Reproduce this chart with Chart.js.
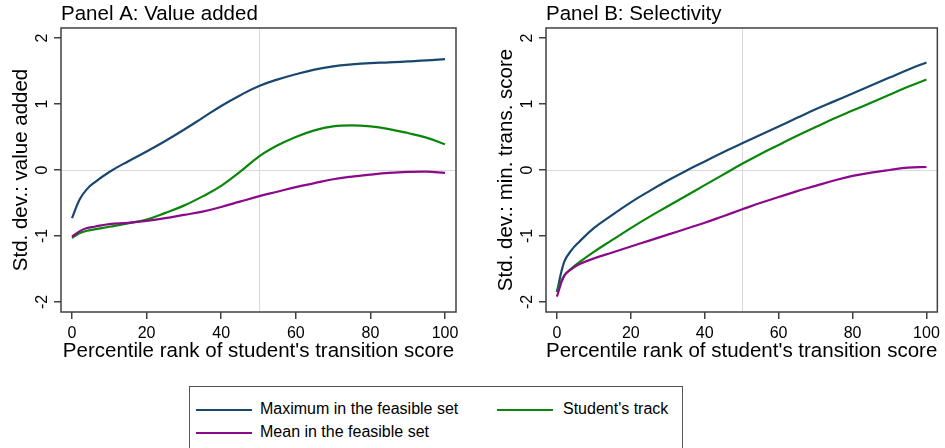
<!DOCTYPE html>
<html>
<head>
<meta charset="utf-8">
<script src="https://cdn.jsdelivr.net/npm/chart.js@4.4.1/dist/chart.umd.min.js"></script>
<style>
  body { margin: 0; background: #fff; width: 945px; height: 448px; overflow: hidden; position: relative;
         font-family: "Liberation Sans", Arial, Helvetica, sans-serif; }
  #canvasA { position: absolute; left: 0; top: 0; }
  #canvasB { position: absolute; left: 470px; top: 0; }
  #legend { position: absolute; left: 189px; top: 386px; width: 494px; height: 80px;
            border: 1px solid #555; box-sizing: border-box; }
  .sw { position: absolute; width: 56px; height: 2px; }
  .lb { position: absolute; font-size: 16px; line-height: 20px; color: #000; white-space: nowrap; }
</style>
</head>
<body>
<canvas id="canvasA" width="470" height="370"></canvas>
<canvas id="canvasB" width="475" height="370"></canvas>
<div id="legend">
  <div class="sw" style="left:6px;top:22px;background:#1a476f"></div>
  <div class="lb" style="left:70px;top:12px">Maximum in the feasible set</div>
  <div class="sw" style="left:307px;top:22px;background:#0a870a"></div>
  <div class="lb" style="left:373px;top:12px">Student's track</div>
  <div class="sw" style="left:6px;top:45px;background:#8b0a8b"></div>
  <div class="lb" style="left:70px;top:35px">Mean in the feasible set</div>
</div>
<script>
// percentil del puntaje de transición (eje x)
const pct = [0, 2, 4, 6, 10, 15, 20, 25, 30, 35, 40, 45, 50, 55, 60, 65, 70, 75, 80, 85, 90, 95, 100];

// Panel A: valor agregado
const maxA   = [-0.73, -0.45, -0.29, -0.19, -0.03, 0.13, 0.28, 0.44, 0.61, 0.79, 0.97, 1.13, 1.27, 1.37, 1.45, 1.52, 1.57, 1.60, 1.62, 1.63, 1.645, 1.66, 1.68];
const trackA = [-1.03, -0.96, -0.92, -0.90, -0.86, -0.81, -0.75, -0.65, -0.54, -0.40, -0.24, -0.03, 0.20, 0.37, 0.50, 0.60, 0.66, 0.675, 0.66, 0.62, 0.56, 0.49, 0.39];
const meanA  = [-1.01, -0.93, -0.88, -0.86, -0.82, -0.80, -0.77, -0.73, -0.68, -0.63, -0.56, -0.48, -0.40, -0.33, -0.26, -0.20, -0.14, -0.10, -0.07, -0.045, -0.03, -0.025, -0.045];

// Panel B: selectividad
const maxB   = [-1.85, -1.39, -1.21, -1.09, -0.88, -0.68, -0.49, -0.32, -0.16, -0.01, 0.13, 0.27, 0.40, 0.53, 0.66, 0.79, 0.92, 1.04, 1.16, 1.28, 1.40, 1.52, 1.63];
const trackB = [-1.84, -1.60, -1.49, -1.40, -1.24, -1.06, -0.88, -0.71, -0.55, -0.39, -0.23, -0.07, 0.09, 0.24, 0.38, 0.52, 0.65, 0.78, 0.90, 1.02, 1.14, 1.26, 1.37];
const meanB  = [-1.92, -1.60, -1.50, -1.43, -1.34, -1.25, -1.16, -1.07, -0.98, -0.89, -0.80, -0.70, -0.60, -0.50, -0.41, -0.32, -0.24, -0.16, -0.09, -0.04, 0.0, 0.035, 0.045];

const xTicks = [0, 20, 40, 60, 80, 100];
const yTicks = [-2, -1, 0, 1, 2];
const refX = 50;
const refY = 0;

const FONT = '"Liberation Sans", Arial, Helvetica, sans-serif';
const FRAME = '#404040';

// líneas de referencia, marco y etiquetas del eje y rotadas (estilo Stata)
const stataFrame = {
  id: 'stataFrame',
  beforeDatasetsDraw(chart) {
    const { ctx, chartArea: a, scales: { x, y } } = chart;
    const px = Math.round(x.getPixelForValue(refX)) + 0.5;
    const py = Math.round(y.getPixelForValue(refY)) + 0.5;
    ctx.save();
    ctx.strokeStyle = '#dadada';
    ctx.lineWidth = 1;
    ctx.beginPath();
    ctx.moveTo(px, a.top); ctx.lineTo(px, a.bottom);
    ctx.moveTo(a.left, py); ctx.lineTo(a.right, py);
    ctx.stroke();
    ctx.restore();
  },
  afterDraw(chart) {
    const { ctx, chartArea: a, scales: { y } } = chart;
    ctx.save();
    ctx.strokeStyle = FRAME;
    ctx.lineWidth = 1.5;
    ctx.strokeRect(a.left, a.top, a.right - a.left, a.bottom - a.top);
    ctx.fillStyle = '#000';
    ctx.font = '16px ' + FONT;
    ctx.textAlign = 'center';
    ctx.textBaseline = 'alphabetic';
    yTicks.forEach(v => {
      ctx.save();
      ctx.translate(a.left - 14, y.getPixelForValue(v));
      ctx.rotate(-Math.PI / 2);
      ctx.fillText(String(v), 0, 0);
      ctx.restore();
    });
    ctx.restore();
  }
};

function toPoints(vals) {
  return pct.map((p, i) => ({ x: p, y: vals[i] }));
}

function makePanel(id, title, yTitle, maxV, trackV, meanV, yWidth, yTitlePad, rightPad) {
  const ctx = document.getElementById(id).getContext('2d');
  return new Chart(ctx, {
    type: 'line',
    data: {
      datasets: [
        { label: 'Maximum in the feasible set', data: toPoints(maxV), borderColor: '#1a476f', order: 2 },
        { label: "Student's track", data: toPoints(trackV), borderColor: '#0a870a', order: 1 },
        { label: 'Mean in the feasible set', data: toPoints(meanV), borderColor: '#8b0a8b', order: 0 }
      ]
    },
    options: {
      responsive: false,
      animation: false,
      layout: { padding: { left: 0, right: rightPad, top: 0, bottom: 0 } },
      elements: {
        point: { radius: 0 },
        line: { borderWidth: 2.2, tension: 0.4, fill: false }
      },
      plugins: {
        legend: { display: false },
        tooltip: { enabled: false },
        title: {
          display: true, text: title, align: 'start', fullSize: false,
          color: '#000', font: { family: FONT, size: 20.5, weight: 'normal', lineHeight: 1.17 },
          padding: { top: 2, bottom: 2 }
        }
      },
      scales: {
        x: {
          type: 'linear', min: -2.95, max: 102.95,
          afterBuildTicks: s => { s.ticks = xTicks.map(v => ({ value: v })); },
          afterFit: s => { s.height = 58; },
          grid: { display: true, drawOnChartArea: false, drawTicks: true, tickLength: 7, color: FRAME, lineWidth: 1.5 },
          border: { display: false },
          ticks: { color: '#000', font: { family: FONT, size: 16 }, padding: 5, maxRotation: 0 },
          title: {
            display: true, text: "Percentile rank of student's transition score",
            color: '#000', font: { family: FONT, size: 20.5 }, padding: { top: 0, bottom: 6 }
          }
        },
        y: {
          type: 'linear', min: -2.152, max: 2.152,
          afterBuildTicks: s => { s.ticks = yTicks.map(v => ({ value: v })); },
          afterFit: s => { s.width = yWidth; },
          grid: { display: true, drawOnChartArea: false, drawTicks: true, tickLength: 7, color: FRAME, lineWidth: 1.5 },
          border: { display: false },
          ticks: { color: 'rgba(0,0,0,0)', font: { family: FONT, size: 16 } },
          title: {
            display: true, text: yTitle,
            color: '#000', font: { family: FONT, size: 20.5 }, padding: { top: yTitlePad, bottom: 0 }
          }
        }
      }
    },
    plugins: [stataFrame]
  });
}

makePanel('canvasA', 'Panel A: Value added', 'Std. dev.: value added', maxA, trackA, meanA, 61, 9, 14);
makePanel('canvasB', 'Panel B: Selectivity', 'Std. dev.: min. trans. score', maxB, trackB, meanB, 76, 24, 5);
</script>
</body>
</html>
